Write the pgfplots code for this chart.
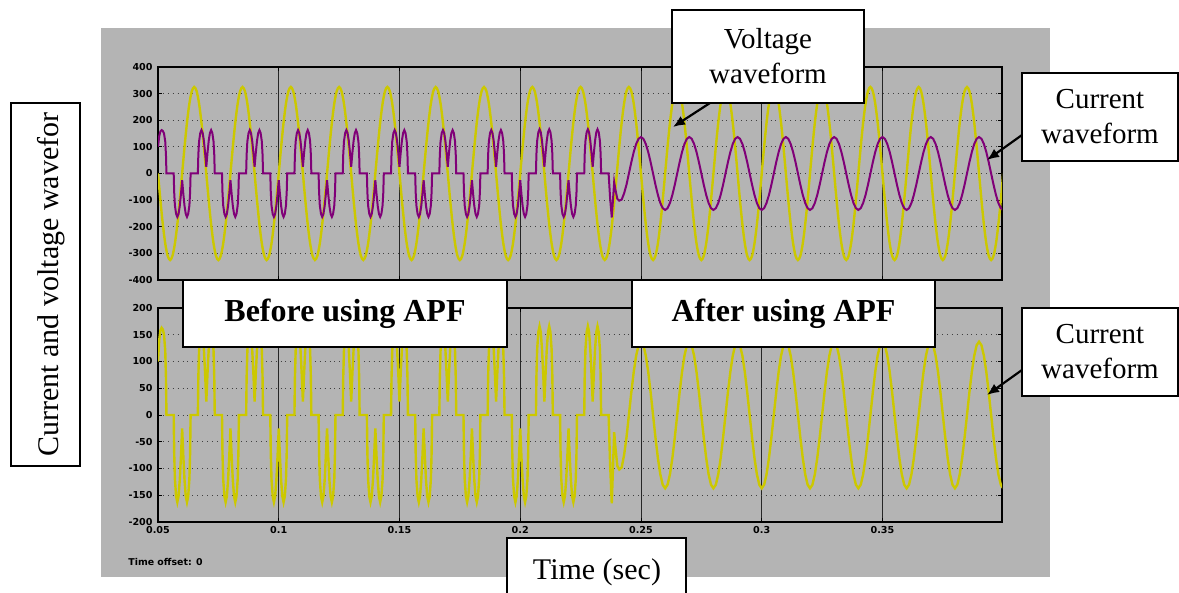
\documentclass[border=0pt]{standalone}
\usepackage{fontspec}
\setmainfont{Liberation Serif}
\newfontfamily\scopefont{DejaVu Sans}
\usepackage{pgfplots}
\pgfplotsset{compat=1.18}
\usepackage{pgfplotstable}
\usetikzlibrary{arrows.meta}

\definecolor{panelgray}{RGB}{180,180,180}
\definecolor{vyellow}{RGB}{204,200,0}
\definecolor{cpurple}{RGB}{128,0,120}

% time in ms, current in A
\pgfplotstableread[row sep=\\]{
t i\\
50 100\\ 50.5 140\\ 51 158\\ 51.5 163\\ 52 160\\ 52.5 150\\ 53 120\\ 53.3 70\\ 53.5 0\\
56.5 0\\ 56.7 -70\\ 57 -120\\ 57.5 -152\\ 58 -163\\ 58.5 -152\\ 59 -123\\ 59.5 -78\\ 60 -25\\ 60.5 -78\\ 61 -123\\ 61.5 -152\\ 62 -163\\ 62.5 -152\\ 63 -120\\ 63.3 -70\\ 63.5 0\\
66.5 0\\ 66.7 70\\ 67 120\\ 67.5 152\\ 68 163\\ 68.5 152\\ 69 123\\ 69.5 78\\ 70 25\\ 70.5 78\\ 71 123\\ 71.5 152\\ 72 163\\ 72.5 152\\ 73 120\\ 73.3 70\\ 73.5 0\\
76.5 0\\ 76.7 -70\\ 77 -120\\ 77.5 -152\\ 78 -163\\ 78.5 -152\\ 79 -123\\ 79.5 -78\\ 80 -25\\ 80.5 -78\\ 81 -123\\ 81.5 -152\\ 82 -163\\ 82.5 -152\\ 83 -120\\ 83.3 -70\\ 83.5 0\\
86.5 0\\ 86.7 70\\ 87 120\\ 87.5 152\\ 88 163\\ 88.5 152\\ 89 123\\ 89.5 78\\ 90 25\\ 90.5 78\\ 91 123\\ 91.5 152\\ 92 163\\ 92.5 152\\ 93 120\\ 93.3 70\\ 93.5 0\\
96.5 0\\ 96.7 -70\\ 97 -120\\ 97.5 -152\\ 98 -163\\ 98.5 -152\\ 99 -123\\ 99.5 -78\\ 100 -25\\ 100.5 -78\\ 101 -123\\ 101.5 -152\\ 102 -163\\ 102.5 -152\\ 103 -120\\ 103.3 -70\\ 103.5 0\\
106.5 0\\ 106.7 70\\ 107 120\\ 107.5 152\\ 108 163\\ 108.5 152\\ 109 123\\ 109.5 78\\ 110 25\\ 110.5 78\\ 111 123\\ 111.5 152\\ 112 163\\ 112.5 152\\ 113 120\\ 113.3 70\\ 113.5 0\\
116.5 0\\ 116.7 -70\\ 117 -120\\ 117.5 -152\\ 118 -163\\ 118.5 -152\\ 119 -123\\ 119.5 -78\\ 120 -25\\ 120.5 -78\\ 121 -123\\ 121.5 -152\\ 122 -163\\ 122.5 -152\\ 123 -120\\ 123.3 -70\\ 123.5 0\\
126.5 0\\ 126.7 70\\ 127 120\\ 127.5 152\\ 128 163\\ 128.5 152\\ 129 123\\ 129.5 78\\ 130 25\\ 130.5 78\\ 131 123\\ 131.5 152\\ 132 163\\ 132.5 152\\ 133 120\\ 133.3 70\\ 133.5 0\\
136.5 0\\ 136.7 -70\\ 137 -120\\ 137.5 -152\\ 138 -163\\ 138.5 -152\\ 139 -123\\ 139.5 -78\\ 140 -25\\ 140.5 -78\\ 141 -123\\ 141.5 -152\\ 142 -163\\ 142.5 -152\\ 143 -120\\ 143.3 -70\\ 143.5 0\\
146.5 0\\ 146.7 70\\ 147 120\\ 147.5 152\\ 148 163\\ 148.5 152\\ 149 123\\ 149.5 78\\ 150 25\\ 150.5 78\\ 151 123\\ 151.5 152\\ 152 163\\ 152.5 152\\ 153 120\\ 153.3 70\\ 153.5 0\\
156.5 0\\ 156.7 -70\\ 157 -120\\ 157.5 -152\\ 158 -163\\ 158.5 -152\\ 159 -123\\ 159.5 -78\\ 160 -25\\ 160.5 -78\\ 161 -123\\ 161.5 -152\\ 162 -163\\ 162.5 -152\\ 163 -120\\ 163.3 -70\\ 163.5 0\\
166.5 0\\ 166.7 70\\ 167 120\\ 167.5 152\\ 168 163\\ 168.5 152\\ 169 123\\ 169.5 78\\ 170 25\\ 170.5 78\\ 171 123\\ 171.5 152\\ 172 163\\ 172.5 152\\ 173 120\\ 173.3 70\\ 173.5 0\\
176.5 0\\ 176.7 -70\\ 177 -120\\ 177.5 -152\\ 178 -163\\ 178.5 -152\\ 179 -123\\ 179.5 -78\\ 180 -25\\ 180.5 -78\\ 181 -123\\ 181.5 -152\\ 182 -163\\ 182.5 -152\\ 183 -120\\ 183.3 -70\\ 183.5 0\\
186.5 0\\ 186.7 70\\ 187 120\\ 187.5 152\\ 188 163\\ 188.5 152\\ 189 123\\ 189.5 78\\ 190 25\\ 190.5 78\\ 191 123\\ 191.5 152\\ 192 163\\ 192.5 152\\ 193 120\\ 193.3 70\\ 193.5 0\\
196.5 0\\ 196.7 -70\\ 197 -120\\ 197.5 -152\\ 198 -163\\ 198.5 -152\\ 199 -123\\ 199.5 -78\\ 200 -25\\ 200.5 -78\\ 201 -123\\ 201.5 -152\\ 202 -163\\ 202.5 -152\\ 203 -120\\ 203.3 -70\\ 203.5 0\\
206.5 0\\ 206.7 72\\ 207 122\\ 207.5 155\\ 208 166\\ 208.5 155\\ 209 124\\ 209.5 78\\ 210 25\\ 210.5 78\\ 211 124\\ 211.5 155\\ 212 166\\ 212.5 155\\ 213 122\\ 213.3 72\\ 213.5 0\\
216.5 0\\ 216.7 -70\\ 217 -120\\ 217.5 -152\\ 218 -163\\ 218.5 -152\\ 219 -123\\ 219.5 -78\\ 220 -25\\ 220.5 -78\\ 221 -123\\ 221.5 -152\\ 222 -163\\ 222.5 -152\\ 223 -120\\ 223.3 -70\\ 223.5 0\\
226.5 0\\ 226.7 72\\ 227 122\\ 227.5 155\\ 228 166\\ 228.5 155\\ 229 124\\ 229.5 78\\ 230 25\\ 230.5 78\\ 231 124\\ 231.5 155\\ 232 166\\ 232.5 155\\ 233 122\\ 233.3 72\\ 233.5 0\\
236.6 0\\ 237.2 -90\\ 237.9 -165\\ 238.4 -100\\ 238.9 -32\\ 239.4 -60\\ 240.2 -95\\ 241 -102\\ 242 -98\\ 243 -75\\ 244 -42\\ 245 0\\ 246 42.3\\ 247 80.5\\ 248 110.8\\ 249 130.3\\
250 137\\ 251 130.3\\ 252 110.8\\ 253 80.5\\ 254 42.3\\ 255 0\\ 256 -42.3\\ 257 -80.5\\ 258 -110.8\\ 259 -130.3\\ 260 -137\\ 261 -130.3\\ 262 -110.8\\ 263 -80.5\\ 264 -42.3\\ 265 0\\ 266 42.3\\ 267 80.5\\ 268 110.8\\ 269 130.3\\
270 137\\ 271 130.3\\ 272 110.8\\ 273 80.5\\ 274 42.3\\ 275 0\\ 276 -42.3\\ 277 -80.5\\ 278 -110.8\\ 279 -130.3\\ 280 -137\\ 281 -130.3\\ 282 -110.8\\ 283 -80.5\\ 284 -42.3\\ 285 0\\ 286 42.3\\ 287 80.5\\ 288 110.8\\ 289 130.3\\
290 137\\ 291 130.3\\ 292 110.8\\ 293 80.5\\ 294 42.3\\ 295 0\\ 296 -42.3\\ 297 -80.5\\ 298 -110.8\\ 299 -130.3\\ 300 -137\\ 301 -130.3\\ 302 -110.8\\ 303 -80.5\\ 304 -42.3\\ 305 0\\ 306 42.3\\ 307 80.5\\ 308 110.8\\ 309 130.3\\
310 137\\ 311 130.3\\ 312 110.8\\ 313 80.5\\ 314 42.3\\ 315 0\\ 316 -42.3\\ 317 -80.5\\ 318 -110.8\\ 319 -130.3\\ 320 -137\\ 321 -130.3\\ 322 -110.8\\ 323 -80.5\\ 324 -42.3\\ 325 0\\ 326 42.3\\ 327 80.5\\ 328 110.8\\ 329 130.3\\
330 137\\ 331 130.3\\ 332 110.8\\ 333 80.5\\ 334 42.3\\ 335 0\\ 336 -42.3\\ 337 -80.5\\ 338 -110.8\\ 339 -130.3\\ 340 -137\\ 341 -130.3\\ 342 -110.8\\ 343 -80.5\\ 344 -42.3\\ 345 0\\ 346 42.3\\ 347 80.5\\ 348 110.8\\ 349 130.3\\
350 137\\ 351 130.3\\ 352 110.8\\ 353 80.5\\ 354 42.3\\ 355 0\\ 356 -42.3\\ 357 -80.5\\ 358 -110.8\\ 359 -130.3\\ 360 -137\\ 361 -130.3\\ 362 -110.8\\ 363 -80.5\\ 364 -42.3\\ 365 0\\ 366 42.3\\ 367 80.5\\ 368 110.8\\ 369 130.3\\
370 137\\ 371 130.3\\ 372 110.8\\ 373 80.5\\ 374 42.3\\ 375 0\\ 376 -42.3\\ 377 -80.5\\ 378 -110.8\\ 379 -130.3\\ 380 -137\\ 381 -130.3\\ 382 -110.8\\ 383 -80.5\\ 384 -42.3\\ 385 0\\ 386 42.3\\ 387 80.5\\ 388 110.8\\ 389 130.3\\
390 137\\ 391 130.3\\ 392 110.8\\ 393 80.5\\ 394 42.3\\ 395 0\\ 396 -42.3\\ 397 -80.5\\ 398 -110.8\\ 399 -130.3\\ 400 -137\\
}\currentdata

\newcommand\tickfont{\scopefont\bfseries\fontsize{4.8}{5}\selectfont}

\pgfplotsset{scopeaxis/.style={
  scale only axis, width=422pt,
  xmin=50, xmax=399.5,
  xtick={50,100,...,350},
  axis line style={black, line width=0.9pt},
  tick style={black, line width=0.4pt},
  major tick length=2pt,
  xmajorgrids, ymajorgrids,
  x grid style={black!85, line width=0.45pt},
  y grid style={black!75, line width=0.45pt, dotted},
  yticklabel style={font=\tickfont, anchor=east, inner sep=0pt, xshift=-2.5pt},
  xticklabel style={font=\tickfont, anchor=north, inner sep=0pt, yshift=-1.8pt},
  axis background/.style={fill=panelgray},
}}

\begin{document}
\begin{tikzpicture}
\useasboundingbox (0,0) rectangle (589.5pt,296.5pt);
\clip (0,0) rectangle (589.5pt,296.5pt);
\fill[white] (0,0) rectangle (589.5pt,296.5pt);
\begin{scope}[x=0.5pt,y=-0.5pt,yshift=296.5pt]
\fill[panelgray] (101,28) rectangle (1050,577);
\end{scope}

% upper scope: voltage and current
\begin{axis}[scopeaxis, at={(79pt,156.5pt)}, anchor=south west, height=106.5pt,
  ymin=-400, ymax=400, ytick={-400,-300,...,400},
  yticklabels={-400,-300,-200,-100,0,100,200,300,400},
  xticklabels={}]
\addplot[vyellow, line width=1.2pt, smooth] coordinates {
(50,0)(51,-100.4)(52,-191)(53,-262.9)(54,-309.1)(55,-325)(56,-309.1)(57,-262.9)(58,-191)(59,-100.4)(60,0)(61,100.4)(62,191)(63,262.9)(64,309.1)(65,325)(66,309.1)(67,262.9)(68,191)(69,100.4)
(70,0)(71,-100.4)(72,-191)(73,-262.9)(74,-309.1)(75,-325)(76,-309.1)(77,-262.9)(78,-191)(79,-100.4)(80,0)(81,100.4)(82,191)(83,262.9)(84,309.1)(85,325)(86,309.1)(87,262.9)(88,191)(89,100.4)
(90,0)(91,-100.4)(92,-191)(93,-262.9)(94,-309.1)(95,-325)(96,-309.1)(97,-262.9)(98,-191)(99,-100.4)(100,0)(101,100.4)(102,191)(103,262.9)(104,309.1)(105,325)(106,309.1)(107,262.9)(108,191)(109,100.4)
(110,0)(111,-100.4)(112,-191)(113,-262.9)(114,-309.1)(115,-325)(116,-309.1)(117,-262.9)(118,-191)(119,-100.4)(120,0)(121,100.4)(122,191)(123,262.9)(124,309.1)(125,325)(126,309.1)(127,262.9)(128,191)(129,100.4)
(130,0)(131,-100.4)(132,-191)(133,-262.9)(134,-309.1)(135,-325)(136,-309.1)(137,-262.9)(138,-191)(139,-100.4)(140,0)(141,100.4)(142,191)(143,262.9)(144,309.1)(145,325)(146,309.1)(147,262.9)(148,191)(149,100.4)
(150,0)(151,-100.4)(152,-191)(153,-262.9)(154,-309.1)(155,-325)(156,-309.1)(157,-262.9)(158,-191)(159,-100.4)(160,0)(161,100.4)(162,191)(163,262.9)(164,309.1)(165,325)(166,309.1)(167,262.9)(168,191)(169,100.4)
(170,0)(171,-100.4)(172,-191)(173,-262.9)(174,-309.1)(175,-325)(176,-309.1)(177,-262.9)(178,-191)(179,-100.4)(180,0)(181,100.4)(182,191)(183,262.9)(184,309.1)(185,325)(186,309.1)(187,262.9)(188,191)(189,100.4)
(190,0)(191,-100.4)(192,-191)(193,-262.9)(194,-309.1)(195,-325)(196,-309.1)(197,-262.9)(198,-191)(199,-100.4)(200,0)(201,100.4)(202,191)(203,262.9)(204,309.1)(205,325)(206,309.1)(207,262.9)(208,191)(209,100.4)
(210,0)(211,-100.4)(212,-191)(213,-262.9)(214,-309.1)(215,-325)(216,-309.1)(217,-262.9)(218,-191)(219,-100.4)(220,0)(221,100.4)(222,191)(223,262.9)(224,309.1)(225,325)(226,309.1)(227,262.9)(228,191)(229,100.4)
(230,0)(231,-100.4)(232,-191)(233,-262.9)(234,-309.1)(235,-325)(236,-309.1)(237,-262.9)(238,-191)(239,-100.4)(240,0)(241,100.4)(242,191)(243,262.9)(244,309.1)(245,325)(246,309.1)(247,262.9)(248,191)(249,100.4)
(250,0)(251,-100.4)(252,-191)(253,-262.9)(254,-309.1)(255,-325)(256,-309.1)(257,-262.9)(258,-191)(259,-100.4)(260,0)(261,100.4)(262,191)(263,262.9)(264,309.1)(265,325)(266,309.1)(267,262.9)(268,191)(269,100.4)
(270,0)(271,-100.4)(272,-191)(273,-262.9)(274,-309.1)(275,-325)(276,-309.1)(277,-262.9)(278,-191)(279,-100.4)(280,0)(281,100.4)(282,191)(283,262.9)(284,309.1)(285,325)(286,309.1)(287,262.9)(288,191)(289,100.4)
(290,0)(291,-100.4)(292,-191)(293,-262.9)(294,-309.1)(295,-325)(296,-309.1)(297,-262.9)(298,-191)(299,-100.4)(300,0)(301,100.4)(302,191)(303,262.9)(304,309.1)(305,325)(306,309.1)(307,262.9)(308,191)(309,100.4)
(310,0)(311,-100.4)(312,-191)(313,-262.9)(314,-309.1)(315,-325)(316,-309.1)(317,-262.9)(318,-191)(319,-100.4)(320,0)(321,100.4)(322,191)(323,262.9)(324,309.1)(325,325)(326,309.1)(327,262.9)(328,191)(329,100.4)
(330,0)(331,-100.4)(332,-191)(333,-262.9)(334,-309.1)(335,-325)(336,-309.1)(337,-262.9)(338,-191)(339,-100.4)(340,0)(341,100.4)(342,191)(343,262.9)(344,309.1)(345,325)(346,309.1)(347,262.9)(348,191)(349,100.4)
(350,0)(351,-100.4)(352,-191)(353,-262.9)(354,-309.1)(355,-325)(356,-309.1)(357,-262.9)(358,-191)(359,-100.4)(360,0)(361,100.4)(362,191)(363,262.9)(364,309.1)(365,325)(366,309.1)(367,262.9)(368,191)(369,100.4)
(370,0)(371,-100.4)(372,-191)(373,-262.9)(374,-309.1)(375,-325)(376,-309.1)(377,-262.9)(378,-191)(379,-100.4)(380,0)(381,100.4)(382,191)(383,262.9)(384,309.1)(385,325)(386,309.1)(387,262.9)(388,191)(389,100.4)
(390,0)(391,-100.4)(392,-191)(393,-262.9)(394,-309.1)(395,-325)(396,-309.1)(397,-262.9)(398,-191)(399,-100.4)(400,0)
};
\addplot[cpurple, line width=1pt] table[x=t, y=i] {\currentdata};
\end{axis}

% lower scope: source current
\begin{axis}[scopeaxis, at={(79pt,35.5pt)}, anchor=south west, height=107pt,
  ymin=-200, ymax=200, ytick={-200,-150,...,200},
  yticklabels={-200,-150,-100,-50,0,50,100,150,200},
  xticklabels={0.05,0.1,0.15,0.2,0.25,0.3,0.35}]
\addplot[vyellow, line width=1.2pt] table[x=t, y=i] {\currentdata};
\end{axis}

\begin{scope}[x=0.5pt,y=-0.5pt,yshift=296.5pt]
\node[anchor=west, inner sep=0pt, font=\scopefont\bfseries\fontsize{4.7}{5}\selectfont] at (128,562) {Time offset: 0};
% y label box
\draw[line width=1pt, fill=white] (11,103) rectangle (80,466);
\node[rotate=90, font=\fontsize{15}{18}\selectfont] at (51,284.5) {Current and voltage wavefor};
% voltage waveform
\draw[line width=1pt, fill=white] (672,10) rectangle (864,103);
\node[align=center, font=\fontsize{14.5}{17.5}\selectfont] at (768,56.5) {Voltage\\waveform};
\draw[line width=1.1pt, -{Latex[length=6pt,width=5pt]}] (710,103) -- (673,127);
% current waveform (top)
\draw[line width=1pt, fill=white] (1022,73) rectangle (1178,161);
\node[align=center, font=\fontsize{14.5}{17.5}\selectfont] at (1100,117) {Current\\waveform};
\draw[line width=1.1pt, -{Latex[length=6pt,width=5pt]}] (1022,135) -- (987,160);
% current waveform (bottom)
\draw[line width=1pt, fill=white] (1022,308) rectangle (1178,396);
\node[align=center, font=\fontsize{14.5}{17.5}\selectfont] at (1100,352) {Current\\waveform};
\draw[line width=1.1pt, -{Latex[length=6pt,width=5pt]}] (1022,370) -- (987,395);
% before / after
\draw[line width=1pt, fill=white] (183,280) rectangle (507,347);
\node[font=\bfseries\fontsize{16}{19}\selectfont] at (345,313.5) {Before using APF};
\draw[line width=1pt, fill=white] (632,280) rectangle (935,347);
\node[font=\bfseries\fontsize{16}{19}\selectfont] at (783.5,313.5) {After using APF};
% time label
\draw[line width=1pt, fill=white] (507,538) rectangle (686,610);
\node[anchor=base, font=\fontsize{15}{18}\selectfont] at (597,580) {Time (sec)};
\end{scope}
\end{tikzpicture}
\end{document}
